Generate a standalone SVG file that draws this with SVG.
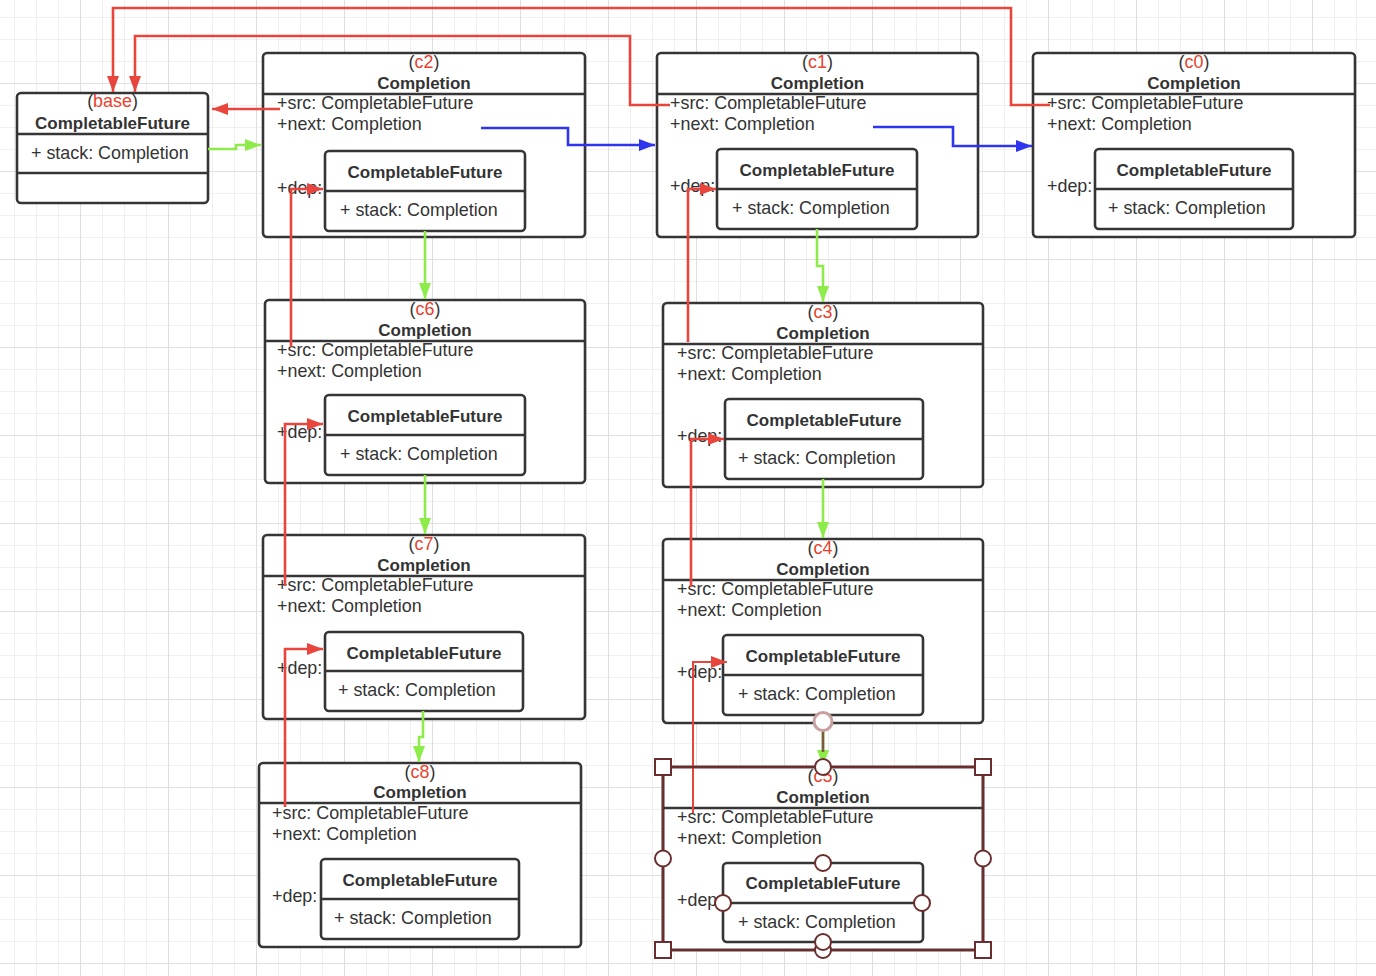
<svg xmlns="http://www.w3.org/2000/svg" width="1376" height="976" viewBox="0 0 1376 976">
<defs>
<style>
.box{fill:#fff;stroke:#353535;stroke-width:2.6}
.ln{stroke:#353535;stroke-width:2.6;fill:none}
.t{font-family:"Liberation Sans",Arial,sans-serif;font-size:17.9px;fill:#333}
.b{font-family:"Liberation Sans",Arial,sans-serif;font-size:17px;font-weight:bold;fill:#333}
.red{fill:#e8412c}
.cr{stroke:#e8453c;stroke-width:2.6;fill:none;marker-end:url(#ar)}
.cb{stroke:#2f35ee;stroke-width:2.6;fill:none;marker-end:url(#ab)}
.cg{stroke:#8eec4a;stroke-width:2.6;fill:none;marker-end:url(#ag)}
.sel{fill:none;stroke:#6b2e2e;stroke-width:2.6}
.h{fill:#fff;stroke:#6b2e2e;stroke-width:2}
</style>
<pattern id="gmin" width="22" height="22" x="14" y="17" patternUnits="userSpaceOnUse"><path d="M0,0V22M0,0H22" stroke="#ebebeb" stroke-width="1.6" fill="none"/></pattern>
<pattern id="gmaj" width="88" height="88" x="80" y="83" patternUnits="userSpaceOnUse"><path d="M0,0V88M0,0H88" stroke="#dbdbdb" stroke-width="1.6" fill="none"/></pattern>
<marker id="ar" markerUnits="userSpaceOnUse" markerWidth="17" markerHeight="12" refX="16" refY="6" orient="auto"><path d="M0,0L16,6L0,12z" fill="#e8453c"/></marker>
<marker id="ab" markerUnits="userSpaceOnUse" markerWidth="17" markerHeight="12" refX="16" refY="6" orient="auto"><path d="M0,0L16,6L0,12z" fill="#2f35ee"/></marker>
<marker id="ag" markerUnits="userSpaceOnUse" markerWidth="17" markerHeight="12" refX="16" refY="6" orient="auto"><path d="M0,0L16,6L0,12z" fill="#8eec4a"/></marker>
</defs>
<rect width="1376" height="976" fill="#fff"/>
<rect width="1376" height="976" fill="url(#gmin)"/>
<rect width="1376" height="976" fill="url(#gmaj)"/>

<g id="base">
<rect class="box" x="17" y="93" width="191" height="110" rx="4"/>
<path class="ln" d="M17,134H208M17,173H208"/>
<text class="t" x="112.5" y="107" text-anchor="middle">(<tspan class="red">base</tspan>)</text>
<text class="b" x="112.5" y="128.5" text-anchor="middle">CompletableFuture</text>
<text class="t" x="31" y="158.5">+ stack: Completion</text>
</g>

<g id="c2" transform="translate(263,53)">
<rect class="box" width="322" height="184" rx="4"/>
<path class="ln" d="M0,41H322"/>
<text class="t" x="161" y="15" text-anchor="middle">(<tspan class="red">c2</tspan>)</text>
<text class="b" x="161" y="36" text-anchor="middle">Completion</text>
<text class="t" x="14" y="56">+src: CompletableFuture</text>
<text class="t" x="14" y="77">+next: Completion</text>
<text class="t" x="14" y="141">+dep:</text>
<rect class="box" x="62" y="98" width="200" height="80" rx="4"/>
<path class="ln" d="M62,138H262"/>
<text class="b" x="162" y="125" text-anchor="middle">CompletableFuture</text>
<text class="t" x="77" y="163">+ stack: Completion</text>
</g>

<g id="c1" transform="translate(657,53)">
<rect class="box" width="321" height="184" rx="4"/>
<path class="ln" d="M0,41H321"/>
<text class="t" x="160.5" y="15" text-anchor="middle">(<tspan class="red">c1</tspan>)</text>
<text class="b" x="160.5" y="36" text-anchor="middle">Completion</text>
<text class="t" x="13" y="56">+src: CompletableFuture</text>
<text class="t" x="13" y="77">+next: Completion</text>
<text class="t" x="13" y="139">+dep:</text>
<rect class="box" x="60" y="96" width="200" height="80" rx="4"/>
<path class="ln" d="M60,136H260"/>
<text class="b" x="160" y="123" text-anchor="middle">CompletableFuture</text>
<text class="t" x="75" y="161">+ stack: Completion</text>
</g>

<g id="c0" transform="translate(1033,53)">
<rect class="box" width="322" height="184" rx="4"/>
<path class="ln" d="M0,41H322"/>
<text class="t" x="161" y="15" text-anchor="middle">(<tspan class="red">c0</tspan>)</text>
<text class="b" x="161" y="36" text-anchor="middle">Completion</text>
<text class="t" x="14" y="56">+src: CompletableFuture</text>
<text class="t" x="14" y="77">+next: Completion</text>
<text class="t" x="14" y="139">+dep:</text>
<rect class="box" x="62" y="96" width="198" height="80" rx="4"/>
<path class="ln" d="M62,136H260"/>
<text class="b" x="161" y="123" text-anchor="middle">CompletableFuture</text>
<text class="t" x="75" y="161">+ stack: Completion</text>
</g>

<g id="c6" transform="translate(265,300)">
<rect class="box" width="320" height="183" rx="4"/>
<path class="ln" d="M0,41H320"/>
<text class="t" x="160" y="15" text-anchor="middle">(<tspan class="red">c6</tspan>)</text>
<text class="b" x="160" y="36" text-anchor="middle">Completion</text>
<text class="t" x="12" y="56">+src: CompletableFuture</text>
<text class="t" x="12" y="77">+next: Completion</text>
<text class="t" x="12" y="138">+dep:</text>
<rect class="box" x="60" y="95" width="200" height="80" rx="4"/>
<path class="ln" d="M60,135H260"/>
<text class="b" x="160" y="122" text-anchor="middle">CompletableFuture</text>
<text class="t" x="75" y="160">+ stack: Completion</text>
</g>

<g id="c7" transform="translate(263,535)">
<rect class="box" width="322" height="184" rx="4"/>
<path class="ln" d="M0,41H322"/>
<text class="t" x="161" y="15" text-anchor="middle">(<tspan class="red">c7</tspan>)</text>
<text class="b" x="161" y="36" text-anchor="middle">Completion</text>
<text class="t" x="14" y="56">+src: CompletableFuture</text>
<text class="t" x="14" y="77">+next: Completion</text>
<text class="t" x="14" y="139">+dep:</text>
<rect class="box" x="62" y="97" width="198" height="79" rx="4"/>
<path class="ln" d="M62,136H260"/>
<text class="b" x="161" y="124" text-anchor="middle">CompletableFuture</text>
<text class="t" x="75" y="161">+ stack: Completion</text>
</g>

<g id="c8" transform="translate(259,763)">
<rect class="box" width="322" height="184" rx="4"/>
<path class="ln" d="M0,40H322"/>
<text class="t" x="161" y="15" text-anchor="middle">(<tspan class="red">c8</tspan>)</text>
<text class="b" x="161" y="35" text-anchor="middle">Completion</text>
<text class="t" x="13" y="56">+src: CompletableFuture</text>
<text class="t" x="13" y="77">+next: Completion</text>
<text class="t" x="13" y="139">+dep:</text>
<rect class="box" x="62" y="96" width="198" height="80" rx="4"/>
<path class="ln" d="M62,136H260"/>
<text class="b" x="161" y="123" text-anchor="middle">CompletableFuture</text>
<text class="t" x="75" y="161">+ stack: Completion</text>
</g>

<g id="c3" transform="translate(663,303)">
<rect class="box" width="320" height="184" rx="4"/>
<path class="ln" d="M0,41H320"/>
<text class="t" x="160" y="15" text-anchor="middle">(<tspan class="red">c3</tspan>)</text>
<text class="b" x="160" y="36" text-anchor="middle">Completion</text>
<text class="t" x="14" y="56">+src: CompletableFuture</text>
<text class="t" x="14" y="77">+next: Completion</text>
<text class="t" x="14" y="139">+dep:</text>
<rect class="box" x="62" y="96" width="198" height="80" rx="4"/>
<path class="ln" d="M62,136H260"/>
<text class="b" x="161" y="123" text-anchor="middle">CompletableFuture</text>
<text class="t" x="75" y="161">+ stack: Completion</text>
</g>

<g id="c4" transform="translate(663,539)">
<rect class="box" width="320" height="184" rx="4"/>
<path class="ln" d="M0,41H320"/>
<text class="t" x="160" y="15" text-anchor="middle">(<tspan class="red">c4</tspan>)</text>
<text class="b" x="160" y="36" text-anchor="middle">Completion</text>
<text class="t" x="14" y="56">+src: CompletableFuture</text>
<text class="t" x="14" y="77">+next: Completion</text>
<text class="t" x="14" y="139">+dep:</text>
<rect class="box" x="60" y="96" width="200" height="80" rx="4"/>
<path class="ln" d="M60,136H260"/>
<text class="b" x="160" y="123" text-anchor="middle">CompletableFuture</text>
<text class="t" x="75" y="161">+ stack: Completion</text>
</g>

<g id="c5" transform="translate(663,767)">
<rect class="box" width="320" height="183" rx="2"/>
<path class="ln" d="M0,41H320"/>
<text class="t" x="160" y="15" text-anchor="middle">(<tspan class="red">c5</tspan>)</text>
<text class="b" x="160" y="36" text-anchor="middle">Completion</text>
<text class="t" x="14" y="56">+src: CompletableFuture</text>
<text class="t" x="14" y="77">+next: Completion</text>
<text class="t" x="14" y="139">+dep:</text>
<rect class="box" x="60" y="96" width="200" height="79" rx="4"/>
<path class="ln" d="M60,136H260"/>
<text class="b" x="160" y="122" text-anchor="middle">CompletableFuture</text>
<text class="t" x="75" y="161">+ stack: Completion</text>
</g>

<g id="connectors">
<path class="cr" d="M280,109H212"/>
<path class="cr" d="M670,105H630V36H135V92"/>
<path class="cr" d="M1050,105H1011V8H113V92"/>
<path class="cr" d="M291,347V189H323"/>
<path class="cr" d="M285,586V424H323"/>
<path class="cr" d="M285,807V649H323"/>
<path class="cr" d="M688,342V189H716"/>
<path class="cr" d="M691,587V439H724"/>
<path class="cr" style="stroke-width:2" d="M693,813V662H727"/>
<path class="cb" d="M481,128H568V145H655"/>
<path class="cb" d="M873,127H953V146H1032"/>
<path class="cg" d="M208,149H236V145H261"/>
<path class="cg" d="M425,231V299"/>
<path class="cg" d="M425,475V534"/>
<path class="cg" d="M423,711V737H419V762"/>
<path class="cg" d="M817,229V266H823V302"/>
<path class="cg" d="M823,479V538"/>
<path class="cg" d="M823,715V766"/>
<path d="M823,722V752" stroke="#7a5a40" stroke-width="2.6" fill="none"/>
</g>

<g id="selection">
<rect class="sel" x="663" y="767" width="320" height="183"/>
<circle cx="823" cy="721.5" r="9" fill="#fff" stroke="#c9a0a0" stroke-width="3"/>
<rect class="h" x="655" y="759" width="16" height="16"/>
<rect class="h" x="975" y="759" width="16" height="16"/>
<rect class="h" x="655" y="942" width="16" height="16"/>
<rect class="h" x="975" y="942" width="16" height="16"/>
<circle class="h" cx="823" cy="767" r="8"/>
<circle class="h" cx="663" cy="858.5" r="8"/>
<circle class="h" cx="983" cy="858.5" r="8"/>
<circle class="h" cx="823" cy="950" r="8"/>
<circle class="h" cx="823" cy="863" r="8"/>
<circle class="h" cx="723" cy="903" r="8"/>
<circle class="h" cx="922" cy="903" r="8"/>
<circle class="h" cx="823" cy="942" r="8"/>
</g>
</svg>
